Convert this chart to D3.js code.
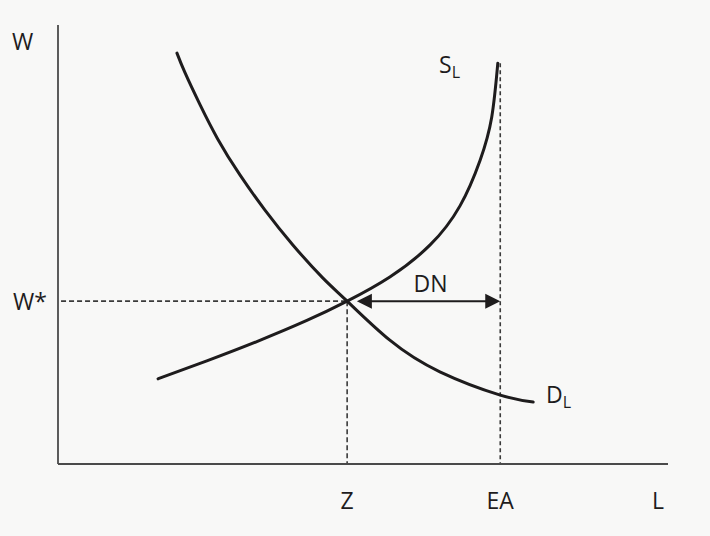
<!DOCTYPE html>
<html>
<head>
<meta charset="utf-8">
<script src="https://cdn.jsdelivr.net/npm/d3@7"></script>
<style>
  html, body { margin: 0; padding: 0; background: #f8f8f7; }
  svg { display: block; }
  text { font-family: "Open Sans", "Liberation Sans", sans-serif; fill: #1e1c1d; }
</style>
</head>
<body>
<div id="chart"></div>
<script>

// Data (arbitrary units 0..100)

const demandL = [19.5, 20.8, 23.3, 26.2, 29.8, 33.9, 38.5, 43.4, 47.4, 54.4, 62.6, 72.5, 77.9];
const demandW = [93.6, 89.2, 81.8, 74.0, 65.9, 57.9, 49.9, 42.4, 37.1, 28.2, 21.0, 15.7, 14.1];

const supplyL = [16.4, 24.4, 32.6, 40.8, 47.4, 54.4, 61.0, 65.9, 69.2, 71.1, 72.1];
const supplyW = [19.4, 23.5, 27.9, 32.7, 37.1, 42.6, 49.9, 58.8, 69.2, 79.0, 91.3];

const equilibriumL = 47.4;   // Z
const equilibriumW = 37.1;   // W*
const activeL = 72.5;        // EA
const arrowStartL = 49.0;

const xTicks = [
    { value: equilibriumL, label: "Z" },
    { value: activeL, label: "EA" },
];

// Configure

const width = 710;
const height = 536;

const margin = { top: 25, right: 42, bottom: 72, left: 58 };

const design = {
    curve: "#1e1c1d",
    axis: "#4a4a4a",
    dash: "#3a3a3a",
    fontSize: 23,
};

const svg = d3.select("#chart").append("svg")
    .attr("width", width)
    .attr("height", height);

// Scales

const x = d3.scaleLinear()
    .domain([0, 100])
    .range([margin.left, width - margin.right]);

const y = d3.scaleLinear()
    .domain([0, 100])
    .range([height - margin.bottom, margin.top]);

// Dashed guides

svg.append("line")
    .attr("x1", x(0.5)).attr("x2", x(equilibriumL))
    .attr("y1", y(equilibriumW)).attr("y2", y(equilibriumW))
    .attr("stroke", design.dash)
    .attr("stroke-width", 1.6)
    .attr("stroke-dasharray", "5,3");

svg.append("line")
    .attr("x1", x(equilibriumL)).attr("x2", x(equilibriumL))
    .attr("y1", y(equilibriumW)).attr("y2", y(0))
    .attr("stroke", design.dash)
    .attr("stroke-width", 1.6)
    .attr("stroke-dasharray", "5,3");

svg.append("line")
    .attr("x1", x(activeL)).attr("x2", x(activeL))
    .attr("y1", y(d3.max(supplyW))).attr("y2", y(0))
    .attr("stroke", design.dash)
    .attr("stroke-width", 1.6)
    .attr("stroke-dasharray", "4,3");

// Axes

svg.append("line")
    .attr("x1", x(0)).attr("x2", x(0))
    .attr("y1", y(100)).attr("y2", y(0))
    .attr("stroke", design.axis)
    .attr("stroke-width", 1.8);

svg.append("line")
    .attr("x1", x(0)).attr("x2", x(100))
    .attr("y1", y(0)).attr("y2", y(0))
    .attr("stroke", design.axis)
    .attr("stroke-width", 1.8);

// Curves

const line = d3.line()
    .curve(d3.curveNatural)
    .x(d => x(d[0]))
    .y(d => y(d[1]));

svg.append("path")
    .attr("fill", "none")
    .attr("stroke", design.curve)
    .attr("stroke-width", 3)
    .attr("stroke-linecap", "round")
    .attr("d", line(d3.zip(demandL, demandW)));

svg.append("path")
    .attr("fill", "none")
    .attr("stroke", design.curve)
    .attr("stroke-width", 3)
    .attr("stroke-linecap", "round")
    .attr("d", line(d3.zip(supplyL, supplyW)));

// DN arrow

const ay = y(equilibriumW);
const ax0 = x(arrowStartL);
const ax1 = x(activeL);
const head = 15;
const half = 7.5;

svg.append("line")
    .attr("x1", ax0 + head - 2).attr("x2", ax1 - head + 2)
    .attr("y1", ay).attr("y2", ay)
    .attr("stroke", design.curve)
    .attr("stroke-width", 2);

svg.append("path")
    .attr("fill", design.curve)
    .attr("d", `M${ax0},${ay}L${ax0 + head},${ay - half}L${ax0 + head},${ay + half}Z`);

svg.append("path")
    .attr("fill", design.curve)
    .attr("d", `M${ax1},${ay}L${ax1 - head},${ay - half}L${ax1 - head},${ay + half}Z`);

// Labels

const label = (px, py, txt, anchor) => svg.append("text")
    .attr("x", px)
    .attr("y", py)
    .attr("text-anchor", anchor || "middle")
    .attr("font-size", design.fontSize)
    .text(txt);

label(12, 50, "W", "start");
label(13, y(equilibriumW) + 9, "W*", "start");
label(x(100) - 10, 509, "L");

svg.selectAll("text.tick")
    .data(xTicks)
    .enter()
    .append("text")
    .attr("class", "tick")
    .attr("x", d => x(d.value))
    .attr("y", 509)
    .attr("text-anchor", "middle")
    .attr("font-size", design.fontSize)
    .text(d => d.label);

label((x(arrowStartL) + x(activeL)) / 2 + 2, y(equilibriumW) - 9, "DN");

const sub = (px, py, main, s) => {
    const t = svg.append("text")
        .attr("x", px)
        .attr("y", py)
        .attr("font-size", design.fontSize);
    t.append("tspan").text(main);
    t.append("tspan")
        .attr("dy", 5)
        .attr("font-size", 16)
        .text(s);
};

sub(439, 73, "S", "L");
sub(546, 403, "D", "L");

</script>
</body>
</html>
